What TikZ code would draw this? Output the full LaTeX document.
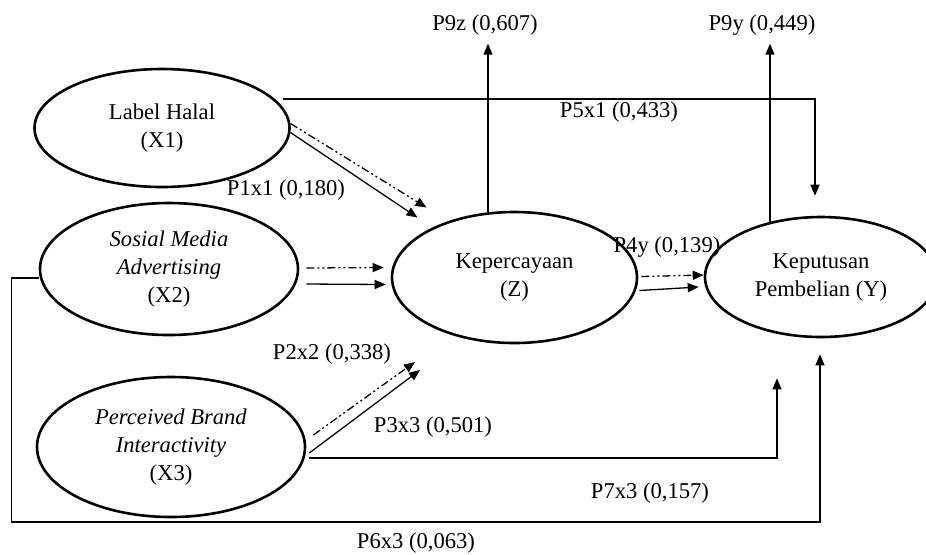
\documentclass[tikz,border=0pt]{standalone}
\usepackage{fontspec}
\setmainfont{Liberation Serif}
\usepackage{tikz}
\usetikzlibrary{shapes.geometric, arrows.meta}

\begin{document}
\begin{tikzpicture}[x=0.5pt, y=-0.5pt,
        font=\fontsize{11.3}{14}\selectfont,
        var/.style={ellipse, draw, line width=1.3pt, align=center, inner sep=0pt},
        link/.style={line width=0.65pt, -{Triangle[length=5.5pt, width=4.5pt]}},
        dashdot/.style={link, dash pattern=on 4pt off 1.5pt on 1pt off 1.5pt on 1pt off 1.5pt}]
    \useasboundingbox (0, 0) rectangle (926, 554);

    % variables
    \node [var, minimum width=127.5pt, minimum height=59pt] (halal) at (162, 128) {Label Halal\\(X1)};
    \node [var, minimum width=129pt, minimum height=66pt] (sma) at (169, 269) {\textit{Sosial Media}\\\textit{Advertising}\\(X2)};
    \node [var, minimum width=134pt, minimum height=70pt] (pbi) at (171, 447) {\textit{Perceived Brand}\\\textit{Interactivity}\\(X3)};
    \node [var, minimum width=122.5pt, minimum height=65.5pt] (trust) at (514.5, 277.5) {Kepercayaan\\(Z)};
    \node [var, minimum width=116pt, minimum height=60pt] (decision) at (821, 277) {Keputusan\\Pembelian (Y)};

    % X1
    \draw [dashdot] (halal.2) -- ([shift={(-88, -70)}]trust.center);
    \draw [link] (halal.-2) -- ([shift={(-97, -60)}]trust.center);
    \draw [link] ([shift={(-7.5, -29)}]halal.east) -| ([shift={(-6, -20)}]decision.north);
    % X2
    \draw [dashdot] ([shift={(7, -1)}]sma.east) -- ([shift={(-7, -10)}]trust.west);
    \draw [link] ([shift={(7, 15)}]sma.east) -- ([shift={(-5, 7)}]trust.west);
    \draw [link] ([shift={(0, 9)}]sma.west) -- ++(-27, 0) -- ++(0, 244) -| ([shift={(-1, 16)}]decision.south);
    % X3
    \draw [dashdot] ([shift={(7, -12)}]pbi.east) -- ([shift={(-99.5, 84.5)}]trust.center);
    \draw [link] ([shift={(3, 6)}]pbi.east) -- ([shift={(-94.5, 92.5)}]trust.center);
    \draw [link] ([shift={(3, 11)}]pbi.east) -| ([shift={(-44, 40)}]decision.south);
    % Z
    \draw [dashdot] ([shift={(3, -1)}]trust.east) -- ([shift={(0, -2)}]decision.west);
    \draw [link] ([shift={(1, 13)}]trust.east) -- ([shift={(-5, 10)}]decision.west);
    \draw [link] ([shift={(-26.5, 1.5)}]trust.north) -- ++(0, -168.5) coordinate (ez);
    \draw [link] ([shift={(-51, 6)}]decision.north) -- ++(0, -178) coordinate (ey);

    % coefficients
    \node (p9z) at (485, 25) {P9z (0,607)};
    \node (p9y) at (762, 25) {P9y (0,449)};
    \node (p5x1) at (619, 112) {P5x1 (0,433)};
    \node (p1x1) at (286, 190) {P1x1 (0,180)};
    \node (p4y) at (667, 247) {P4y (0,139)};
    \node (p2x2) at (332, 354) {P2x2 (0,338)};
    \node (p3x3) at (433, 427) {P3x3 (0,501)};
    \node (p7x3) at (650, 493) {P7x3 (0,157)};
    \node (p6x3) at (416, 543) {P6x3 (0,063)};
\end{tikzpicture}
\end{document}
